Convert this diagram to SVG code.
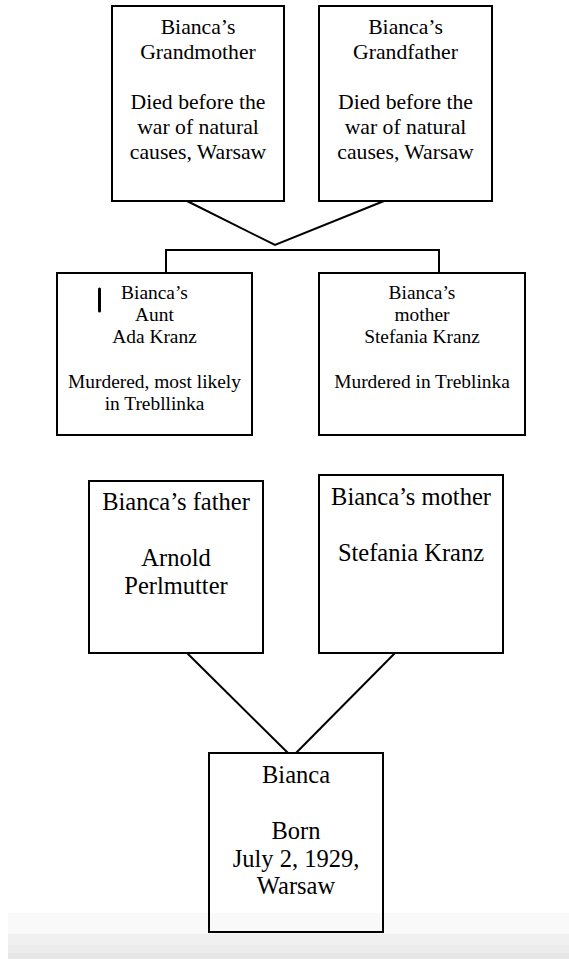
<svg xmlns="http://www.w3.org/2000/svg" width="569" height="959" viewBox="0 0 569 959">
<style>
.box{fill:none;stroke:#000;stroke-width:2}
.ln{fill:none;stroke:#000;stroke-width:2}
text{font-family:"Liberation Serif","Times New Roman",serif;fill:#000;text-anchor:middle}
.t1{font-size:21.7px}
.t2{font-size:19.4px}
.t3{font-size:24.5px}
</style>
<rect x="0" y="0" width="569" height="959" fill="#fff"/>
<g id="band">
<rect x="8" y="913" width="561" height="21" fill="#f9f9f9"/>
<rect x="8" y="934" width="561" height="11" fill="#f0f0f0"/>
<rect x="8" y="945" width="561" height="8" fill="#ececec"/>
<rect x="8" y="953" width="561" height="6" fill="#e6e6e6"/>
</g>
<g id="connectors">
<polyline class="ln" points="187,201 275,245 384,201"/>
<polyline class="ln" points="166,273 166,250 439,250 439,273"/>
<polyline class="ln" points="187,653 288,753"/>
<polyline class="ln" points="395,653 296,753"/>
</g>
<g id="grandmother">
<rect class="box" x="112" y="6" width="172" height="195"/>
<text class="t1" x="198" y="34">Bianca’s</text>
<text class="t1" x="198" y="59">Grandmother</text>
<text class="t1" x="198" y="109">Died before the</text>
<text class="t1" x="198" y="134">war of natural</text>
<text class="t1" x="198" y="159">causes, Warsaw</text>
</g>
<g id="grandfather">
<rect class="box" x="319" y="6" width="173" height="195"/>
<text class="t1" x="405.5" y="34">Bianca’s</text>
<text class="t1" x="405.5" y="59">Grandfather</text>
<text class="t1" x="405.5" y="109">Died before the</text>
<text class="t1" x="405.5" y="134">war of natural</text>
<text class="t1" x="405.5" y="159">causes, Warsaw</text>
</g>
<g id="aunt">
<rect class="box" x="57" y="273" width="195" height="162"/>
<line x1="99.5" y1="289" x2="99.5" y2="311" stroke="#000" stroke-width="3" stroke-linecap="round"/>
<text class="t2" x="154.5" y="299">Bianca’s</text>
<text class="t2" x="154.5" y="321">Aunt</text>
<text class="t2" x="154.5" y="343">Ada Kranz</text>
<text class="t2" x="154.5" y="388">Murdered, most likely</text>
<text class="t2" x="154.5" y="410">in Trebllinka</text>
</g>
<g id="mother-top">
<rect class="box" x="319" y="273" width="206" height="162"/>
<text class="t2" x="422" y="299">Bianca’s</text>
<text class="t2" x="422" y="321">mother</text>
<text class="t2" x="422" y="343">Stefania Kranz</text>
<text class="t2" x="422" y="388">Murdered in Treblinka</text>
</g>
<g id="father">
<rect class="box" x="89" y="481" width="174" height="172"/>
<text class="t3" x="176" y="510">Bianca’s father</text>
<text class="t3" x="176" y="566">Arnold</text>
<text class="t3" x="176" y="594">Perlmutter</text>
</g>
<g id="mother">
<rect class="box" x="319" y="475" width="184" height="178"/>
<text class="t3" x="411" y="505">Bianca’s mother</text>
<text class="t3" x="411" y="561">Stefania Kranz</text>
</g>
<g id="bianca">
<rect class="box" x="209" y="753" width="174" height="179"/>
<text class="t3" x="296" y="783">Bianca</text>
<text class="t3" x="296" y="839">Born</text>
<text class="t3" x="296" y="867">July 2, 1929,</text>
<text class="t3" x="296" y="894">Warsaw</text>
</g>
</svg>
